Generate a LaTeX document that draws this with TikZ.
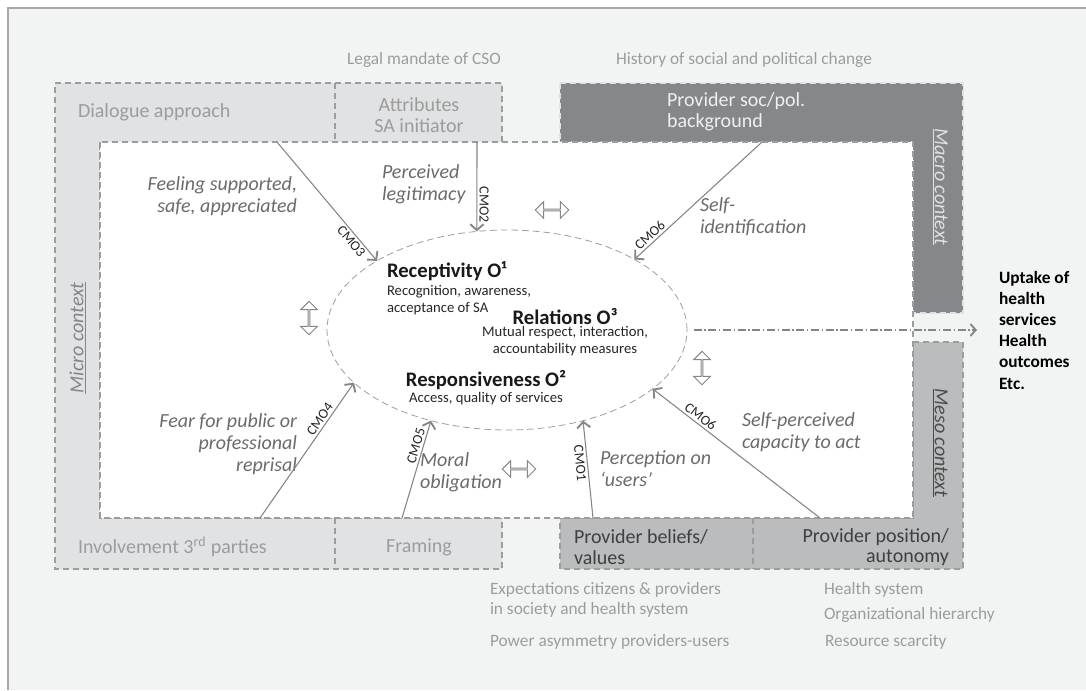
\documentclass[tikz,border=0pt]{standalone}
\usepackage{fontspec}
\setmainfont{Carlito}
\usetikzlibrary{arrows.meta,shapes.geometric,shapes.arrows}
\definecolor{framebg}{HTML}{F2F4F3}
\definecolor{framerule}{HTML}{A8A8A8}
\definecolor{microfill}{HTML}{E1E2E3}
\definecolor{macrofill}{HTML}{86878A}
\definecolor{mesofill}{HTML}{BBBCBE}
\definecolor{dashgray}{HTML}{9D9D9D}
\definecolor{arrowgray}{HTML}{858585}
\definecolor{ctxgray}{HTML}{9C9C9C}
\definecolor{cmgray}{HTML}{6B6B6B}
\definecolor{microtext}{HTML}{858585}
\definecolor{mesotext}{HTML}{3F3F3F}
\begin{document}
\begin{tikzpicture}[x=0.75pt,y=-0.75pt,
  every node/.style={inner sep=0pt,outer sep=0pt},
  ctxbox/.style={draw=dashgray,line width=0.9pt,dash pattern=on 4.5pt off 3pt},
  boxtext/.style={font=\fontsize{15}{15.5}\selectfont},
  outer/.style={text=ctxgray,font=\fontsize{13}{15}\selectfont},
  ctxname/.style={font=\fontsize{15}{16}\selectfont\itshape},
  mech/.style={text=cmgray,font=\fontsize{15}{16.5}\selectfont\itshape},
  outhead/.style={text=black!90,font=\fontsize{15.5}{17}\selectfont\bfseries},
  outsub/.style={text=black!85,font=\fontsize{11}{12.8}\selectfont},
  cmo/.style={draw=arrowgray,line width=0.8pt,-{Straight Barb[length=4.5pt,width=10pt,line width=1.4pt]}},
  cmolbl/.style={text=black!85,font=\fontsize{10.5}{11}\selectfont,inner sep=2pt,sloped},
  flow/.style={draw=arrowgray,line width=0.9pt,dash pattern=on 6pt off 2pt on 1pt off 2pt,-{Straight Barb[length=4pt,width=9pt,line width=1.4pt]}},
  twoway/.style={double arrow,draw=arrowgray,fill=white,line width=0.7pt,minimum height=25pt,minimum width=12.5pt,double arrow head extend=3pt}]
\useasboundingbox (0,0) rectangle (1086,690);

% Panel
\fill[framebg] (8,8) rectangle (1086,690);
\draw[framerule,line width=1pt] (8,690) -- (8,8) -- (1086,8);

% Context bands
\filldraw[ctxbox,fill=microfill] (55,83) -- (502,83) -- (502,142) -- (100,142) -- (100,518) -- (502,518) -- (502,569) -- (55,569) -- cycle;
\filldraw[ctxbox,fill=macrofill,draw=framebg!80!dashgray] (560,83) -- (963,83) -- (963,313) -- (913,313) -- (913,142) -- (560,142) -- cycle;
\filldraw[ctxbox,fill=mesofill] (913,342) -- (963,342) -- (963,569) -- (560,569) -- (560,518) -- (913,518) -- cycle;
\filldraw[ctxbox,fill=white] (100,142) rectangle (913,518);
\draw[ctxbox] (335,83) -- (335,142);
\draw[ctxbox] (335,518) -- (335,569);
\draw[ctxbox] (753,518) -- (753,569);

% Outer conditions
\node[outer] (legal) at (424,60) {Legal mandate of CSO};
\node[outer] (history) at (744,60) {History of social and political change};
\node[outer,anchor=west,align=left] (expect) at (490,600) {Expectations citizens \& providers\\in society and health system};
\node[outer,anchor=west] (power) at (490,642) {Power asymmetry providers-users};
\node[outer,anchor=west] (hsys) at (824,590) {Health system};
\node[outer,anchor=west] (orgh) at (824,615) {Organizational hierarchy};
\node[outer,anchor=west] (resc) at (825,642) {Resource scarcity};

% Band labels
\node[boxtext,text=ctxgray,anchor=west] (dialog) at (78,112) {Dialogue approach};
\node[boxtext,text=ctxgray,align=center] (attrib) at (419,115) {Attributes\\SA initiator};
\node[boxtext,text=ctxgray,anchor=west] (involve) at (78,547) {Involvement 3\textsuperscript{rd} parties};
\node[boxtext,text=ctxgray] (framing) at (419,547) {Framing};
\node[boxtext,text=white!94!black,anchor=west,align=left] (socpol) at (667,112) {Provider soc/pol.\\background};
\node[boxtext,text=mesotext,anchor=west,align=left] (beliefs) at (574,547) {Provider beliefs/\\values};
\node[boxtext,text=mesotext,anchor=east,align=right] (position) at (949,547) {Provider position/\\autonomy};
\node[ctxname,text=microtext,rotate=90] (micro) at (78,338) {\underline{Micro context}};
\node[ctxname,text=white!88!black,rotate=-90] (macro) at (940,187) {\underline{Macro context}};
\node[ctxname,text=black!70,rotate=-90] (meso) at (940,443) {\underline{Meso context}};

% Outcomes
\node[ellipse,draw=dashgray,line width=0.6pt,dash pattern=on 5pt off 3pt,minimum width=270pt,minimum height=150pt] (outc) at (507,330) {};
\node[outhead,anchor=west] (recept) at (387,271) {Receptivity O¹};
\node[outsub,anchor=west,align=left] (receptsub) at (387,300) {Recognition, awareness,\\acceptance of SA};
\node[outhead] (relat) at (565,317) {Relations O³};
\node[outsub,align=center] (relatsub) at (565,341) {Mutual respect, interaction,\\accountability measures};
\node[outhead] (respons) at (486,380) {Responsiveness O²};
\node[outsub] (responssub) at (486,399) {Access, quality of services};
\node[anchor=west,align=left,font=\fontsize{13}{15.9}\selectfont\bfseries] (uptake) at (999,330) {Uptake of\\health\\services\\Health\\outcomes\\Etc.};

% Mechanisms
\node[mech,anchor=east,align=right] (feel) at (297,196) {Feeling supported,\\safe, appreciated};
\node[mech,anchor=west,align=left] (legit) at (382,184) {Perceived\\legitimacy};
\node[mech,anchor=west,align=left] (selfid) at (700,217) {Self-\\identification};
\node[mech,anchor=east,align=right] (fear) at (297,444) {Fear for public or\\professional\\reprisal};
\node[mech,anchor=west,align=left] (moral) at (420,472) {Moral\\obligation};
\node[mech,anchor=west,align=left] (percep) at (600,469) {Perception on\\`users'};
\node[mech,anchor=west,align=left] (selfper) at (742,432) {Self-perceived\\capacity to act};

% CMO arrows
\coordinate (s3) at (277,142);
\coordinate (s2) at (477,142);
\coordinate (s6t) at (762,142);
\coordinate (s4) at (260,518);
\coordinate (s5) at (402,518);
\coordinate (s1) at (593,518);
\coordinate (s6b) at (820,518);
\draw[cmo] (s3) -- (outc.152) node[cmolbl,pos=0.8,below] {CMO3};
\draw[cmo] (s2) -- (outc.107) node[cmolbl,pos=0.7,above,allow upside down] {CMO2};
\draw[cmo] (s6t) -- (outc.29) node[cmolbl,pos=0.84,above] {CMO6};
\draw[cmo] (s4) -- (outc.199) node[cmolbl,pos=0.7,above] {CMO4};
\draw[cmo] (s5) -- (outc.230) node[cmolbl,pos=0.72,above] {CMO5};
\draw[cmo] (s1) -- (outc.310) node[cmolbl,pos=0.57,below] {CMO1};
\draw[cmo] (s6b) -- (outc.338) node[cmolbl,pos=0.74,above] {CMO6};

% Outcome pathway
\coordinate (goal) at (977,330);
\draw[flow] ([xshift=5pt]outc.east) -- (goal);

% Interactions
\node[twoway] (ia) at (552,210) {};
\node[twoway,rotate=90] (ib) at (309,318) {};
\node[twoway] (ic) at (519,469) {};
\node[twoway,rotate=90] (id) at (702,368) {};
\end{tikzpicture}
\end{document}
